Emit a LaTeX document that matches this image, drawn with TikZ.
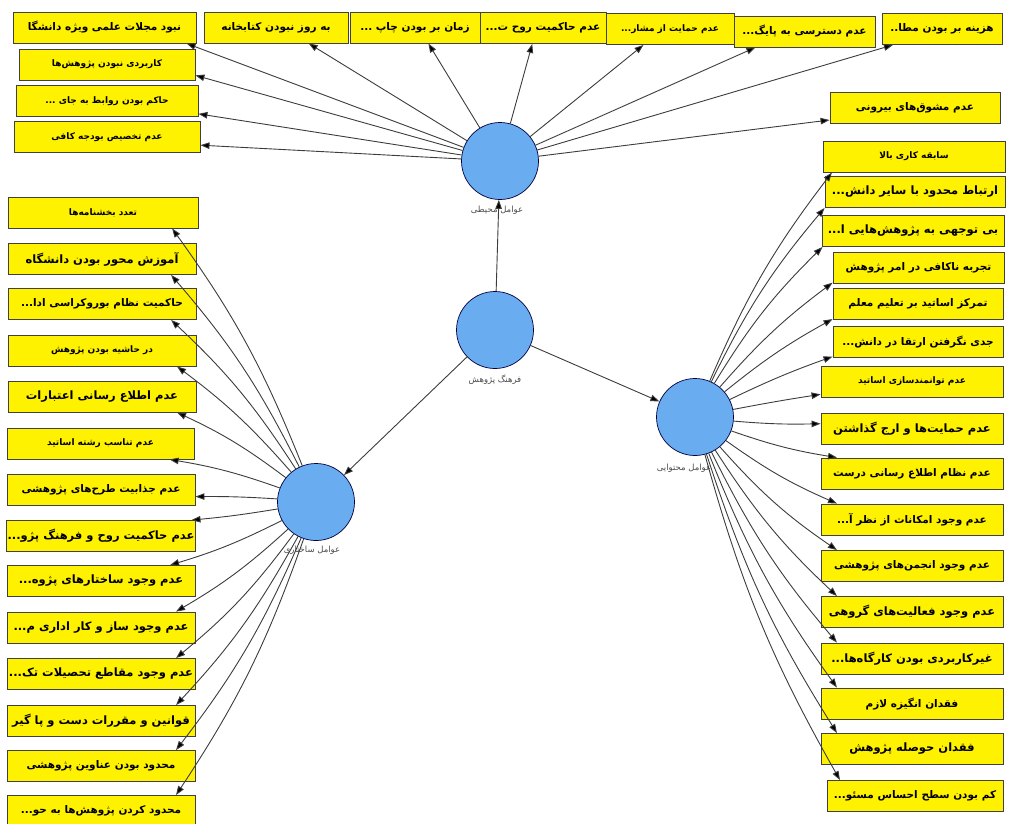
\documentclass[tikz,border=0pt]{standalone}
\usepackage{fontspec}
\usetikzlibrary{arrows.meta}
\newfontfamily\arabicfont[Script=Arabic]{DejaVu Sans}
\TeXXeTstate=1
\newcommand{\fa}[1]{\beginR #1\endR}
\definecolor{circblue}{RGB}{106,172,240}
\definecolor{edgegray}{RGB}{60,60,60}

\begin{document}
\begin{tikzpicture}[x=1pt, y=-1pt,
    every node/.style={font=\arabicfont\bfseries\fontsize{10.5}{12}\selectfont},
    item/.style={draw=black!75, line width=0.9pt, fill=yellow, rectangle, minimum height=31pt, inner sep=1pt},
    smalltext/.style={font=\arabicfont\bfseries\fontsize{9}{11}\selectfont},
    bigtext/.style={font=\arabicfont\bfseries\fontsize{11.5}{13}\selectfont},
    factor/.style={draw=blue!25!black, line width=0.7pt, fill=circblue, circle, minimum size=77pt},
    lbl/.style={font=\arabicfont\fontsize{8.5}{10}\selectfont, text=black!70},
    arr/.style={draw=edgegray, line width=0.9pt, -{Triangle[length=9pt,width=6.5pt,fill=black]}}]
      \useasboundingbox (0,0) rectangle (1011,823);

      % Four factors
      \node[factor] (cP) at (495,330) {};
      \node[factor] (cE) at (500,161) {};
      \node[factor] (cS) at (316,502) {};
      \node[factor] (cC) at (695,417) {};
      \node[lbl] (lP) at (495,380) {\fa{فرهنگ پژوهش}};
      \node[lbl] (lE) at (497,210) {\fa{عوامل محیطی}};
      \node[lbl] (lS) at (312,550) {\fa{عوامل ساختاری}};
      \node[lbl] (lC) at (684,468) {\fa{عوامل محتوایی}};

      % Environmental items
      \node[item, minimum width=183pt] (t1) at (104.5,27.5) {\fa{نبود مجلات علمی ویژه دانشگا}};
      \node[item, minimum width=144pt] (t2) at (276,27.5) {\fa{به روز نبودن کتابخانه}};
      \node[item, minimum width=130pt] (t3) at (415,27.5) {\fa{زمان بر بودن چاپ ...}};
      \node[item, minimum width=126pt] (t4) at (543,28) {\fa{عدم حاکمیت روح ت...}};
      \node[item, smalltext, minimum width=128pt] (t5) at (670,29) {\fa{عدم حمایت از مشار...}};
      \node[item, minimum width=141pt] (t6) at (804.5,31.5) {\fa{عدم دسترسی به پایگ...}};
      \node[item, minimum width=120pt] (t7) at (942,29) {\fa{هزینه بر بودن مطا..}};
      \node[item, smalltext, minimum width=176pt] (l1) at (107,64.5) {\fa{کاربردی نبودن پژوهش‌ها}};
      \node[item, smalltext, minimum width=182pt] (l2) at (107,101) {\fa{حاکم بودن روابط به جای ...}};
      \node[item, smalltext, minimum width=186pt] (l3) at (107,137) {\fa{عدم تخصیص بودجه کافی}};
      \node[item, minimum width=170pt] (r1) at (915,108) {\fa{عدم مشوق‌های بیرونی}};

      % Structural items
      \node[item, smalltext, minimum width=190pt] (L1) at (103,212.5) {\fa{تعدد بخشنامه‌ها}};
      \node[item, bigtext, minimum width=188pt] (L2) at (102,259) {\fa{آموزش محور بودن دانشگاه}};
      \node[item, minimum width=188pt] (L3) at (102,304) {\fa{حاکمیت نظام بوروکراسی ادا...}};
      \node[item, smalltext, minimum width=188pt] (L4) at (102,350.5) {\fa{در حاشیه بودن پژوهش}};
      \node[item, bigtext, minimum width=188pt] (L5) at (102,396.5) {\fa{عدم اطلاع رسانی اعتبارات}};
      \node[item, smalltext, minimum width=187pt] (L6) at (100.5,443.5) {\fa{عدم تناسب رشته اساتید}};
      \node[item, minimum width=188pt] (L7) at (101,490) {\fa{عدم جذابیت طرح‌های پژوهشی}};
      \node[item, bigtext, minimum width=188pt] (L8) at (101,536) {\fa{عدم حاکمیت روح و فرهنگ پژو...}};
      \node[item, bigtext, minimum width=188pt] (L9) at (101,581) {\fa{عدم وجود ساختارهای پژوه...}};
      \node[item, bigtext, minimum width=188pt] (L10) at (101,627.5) {\fa{عدم وجود ساز و کار اداری م...}};
      \node[item, bigtext, minimum width=188pt] (L11) at (101,674) {\fa{عدم وجود مقاطع تحصیلات تک...}};
      \node[item, bigtext, minimum width=188pt] (L12) at (101,721) {\fa{قوانین و مقررات دست و پا گیر}};
      \node[item, minimum width=188pt] (L13) at (101,766) {\fa{محدود بودن عناوین پژوهشی}};
      \node[item, minimum width=188pt] (L14) at (101,811) {\fa{محدود کردن پژوهش‌ها به حو...}};

      % Content items
      \node[item, smalltext, minimum width=182pt] (R1) at (914,156.5) {\fa{سابقه کاری بالا}};
      \node[item, bigtext, minimum width=180pt] (R2) at (915,192) {\fa{ارتباط محدود با سایر دانش...}};
      \node[item, bigtext, minimum width=182pt] (R3) at (913,231) {\fa{بی توجهی به پژوهش‌هایی ا...}};
      \node[item, minimum width=171pt] (R4) at (918.5,267.5) {\fa{تجربه ناکافی در امر پژوهش}};
      \node[item, minimum width=170pt] (R5) at (918,304) {\fa{تمرکز اساتید بر تعلیم معلم}};
      \node[item, minimum width=170pt] (R6) at (918,341.5) {\fa{جدی نگرفتن ارتقا در دانش...}};
      \node[item, smalltext, minimum width=182pt] (R7) at (912,381.5) {\fa{عدم توانمندسازی اساتید}};
      \node[item, bigtext, minimum width=182pt] (R8) at (912,428.5) {\fa{عدم حمایت‌ها و ارج گذاشتن}};
      \node[item, minimum width=182pt] (R9) at (912,473.5) {\fa{عدم نظام اطلاع رسانی درست}};
      \node[item, minimum width=182pt] (R10) at (912,519.5) {\fa{عدم وجود امکانات از نظر آ...}};
      \node[item, minimum width=182pt] (R11) at (912,566) {\fa{عدم وجود انجمن‌های پژوهشی}};
      \node[item, bigtext, minimum width=182pt] (R12) at (912,612) {\fa{عدم وجود فعالیت‌های گروهی}};
      \node[item, bigtext, minimum width=182pt] (R13) at (912,658.5) {\fa{غیرکاربردی بودن کارگاه‌ها...}};
      \node[item, minimum width=182pt] (R14) at (912,703.5) {\fa{فقدان انگیزه لازم}};
      \node[item, bigtext, minimum width=182pt] (R15) at (912,749) {\fa{فقدان حوصله پژوهش}};
      \node[item, minimum width=176pt] (R16) at (915,796) {\fa{کم بودن سطح احساس مسئو...}};

      % Arrows
      \draw[arr] (cP) -- (cE);
      \draw[arr] (cP) -- (cS);
      \draw[arr] (cP) -- (cC);
      \foreach \b/\a in {t1/-11, t2/-26, t3/-50, t4/-124, t5/-149, t6/-162, t7/-162, l1/-7, l2/-8, l3/-5, r1/-172}
        \draw[arr] (cE) -- (\b.\a);
      \foreach \b/\a/\s/\n in {L1/-13/right/7, L2/-13/right/7, L3/-13/right/7, L4/-12/right/6, L5/-12/right/6, L6/-13/right/5,
          L7/-4/right/2, L8/10/left/2, L9/13/left/5, L10/12/left/6, L11/12/left/7, L12/12/left/7, L13/12/left/7, L14/12/left/7}
        \draw[arr] (cS) to[bend \s=\n] (\b.\a);
      \foreach \b/\a/\s/\n in {R1/-169/left/7, R2/-170/left/7, R3/-170/left/7, R4/-170/left/6, R5/-170/left/5, R6/-170/left/3,
          R7/-172/left/1, R8/177/right/3, R9/168/right/5, R10/168/right/6, R11/168/right/7, R12/168/right/7,
          R13/168/right/7, R14/168/right/7, R15/168/right/7, R16/168/right/7}
        \draw[arr] (cC) to[bend \s=\n] (\b.\a);
    \end{tikzpicture}
\end{document}
